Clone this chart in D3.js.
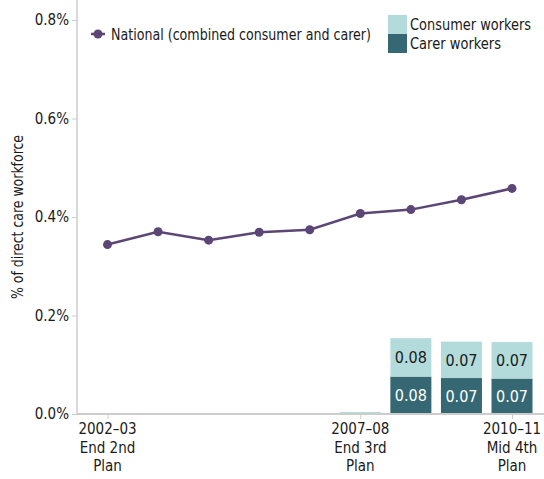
<!DOCTYPE html>
<html><head><meta charset="utf-8">
<script src="https://cdn.jsdelivr.net/npm/d3@7"></script>
<style>
body{margin:0;background:#fff;}
text{font-family:"DejaVu Sans Condensed","Liberation Sans",sans-serif;fill:#1a1a1a;}
</style></head>
<body><svg id="c" width="544" height="479"></svg>
<script>
const categories = ["2002-03","2003-04","2004-05","2005-06","2006-07","2007-08","2008-09","2009-10","2010-11"];
const tickLabels = {"2002-03":["2002–03","End 2nd","Plan"],"2007-08":["2007–08","End 3rd","Plan"],"2010-11":["2010–11","Mid 4th","Plan"]};
const nationalValues = [0.344,0.370,0.353,0.369,0.374,0.407,0.415,0.435,0.458];
const consumerValues = [null,null,null,null,null,0.004,0.078,0.074,0.074];
const carerValues = [null,null,null,null,null,0,0.076,0.073,0.072];
const yTicks = [0,0.2,0.4,0.6,0.8];

const svg = d3.select("#c");
const x = d3.scalePoint().domain(categories).range([107.5,512]);
const y = d3.scaleLinear().domain([0,0.8]).range([414,20]);
const bw = 41;
const cConsumer="#b3dbdb", cCarer="#356872", cLine="#5b4676", cAxis="#cccccc";

// axes
const ya = svg.append("g").attr("transform","translate(77,0)")
  .call(d3.axisLeft(y).tickValues(yTicks).tickFormat(d=>d.toFixed(1)+"%").tickSize(5).tickPadding(3));
ya.select(".domain").attr("stroke",cAxis).attr("stroke-width",1.5).attr("d","M0,0V414");
ya.selectAll(".tick line").attr("stroke",cAxis);
ya.selectAll(".tick text").style("font-size","15px").attr("fill","#1a1a1a");

svg.append("text").attr("transform","translate(23,217) rotate(-90)").attr("text-anchor","middle")
  .style("font-size","15px").attr("textLength",164).attr("lengthAdjust","spacingAndGlyphs").text("% of direct care workforce");

// bars
const barData = categories.map((c,i)=>({c,carer:carerValues[i],consumer:consumerValues[i]})).filter(d=>d.consumer!=null);
const bg = svg.append("g");
barData.forEach(d=>{
  const x0 = x(d.c)-bw/2;
  if(d.carer>0){
    bg.append("rect").attr("x",x0).attr("width",bw).attr("y",y(d.carer)).attr("height",y(0)-y(d.carer)).attr("fill",cCarer);
    bg.append("text").attr("x",x(d.c)).attr("y",(y(d.carer)+y(0))/2+6).attr("text-anchor","middle")
      .style("font-size","16px").style("fill","#ffffff").text(d.carer.toFixed(2));
  }
  const top = d.carer+d.consumer;
  bg.append("rect").attr("x",x0).attr("width",bw).attr("y",y(top)).attr("height",y(d.carer)-y(top)).attr("fill",cConsumer);
  if(d.consumer>0.02){
    bg.append("text").attr("x",x(d.c)).attr("y",(y(top)+y(d.carer))/2+6).attr("text-anchor","middle")
      .style("font-size","16px").text(d.consumer.toFixed(2));
  }
});

// x axis
const xa = svg.append("g").attr("transform","translate(0,414)")
  .call(d3.axisBottom(x).tickValues(Object.keys(tickLabels)).tickSize(5).tickFormat(""));
xa.select(".domain").attr("stroke",cAxis).attr("stroke-width",2).attr("d","M77,0H544");
xa.selectAll(".tick line").attr("stroke",cAxis);
Object.keys(tickLabels).forEach(k=>{
  const t = svg.append("text").attr("text-anchor","middle").style("font-size","15px");
  tickLabels[k].forEach((s,i)=>t.append("tspan").attr("x",x(k)).attr("y",434+i*18.5).text(s));
});

// line
svg.append("path").datum(nationalValues).attr("fill","none").attr("stroke",cLine).attr("stroke-width",2.5)
  .attr("d",d3.line().x((d,i)=>x(categories[i])).y(d=>y(d)));
svg.append("g").selectAll("circle").data(nationalValues).join("circle")
  .attr("cx",(d,i)=>x(categories[i])).attr("cy",d=>y(d)).attr("r",4.5).attr("fill",cLine);

// legend
const lg = svg.append("g");
lg.append("line").attr("x1",91).attr("x2",105).attr("y1",34).attr("y2",34).attr("stroke",cLine).attr("stroke-width",2.5);
lg.append("circle").attr("cx",98).attr("cy",34).attr("r",4.5).attr("fill",cLine);
lg.append("text").attr("x",111).attr("y",39.5).style("font-size","15.5px")
  .attr("textLength",260).attr("lengthAdjust","spacingAndGlyphs").text("National (combined consumer and carer)");
lg.append("rect").attr("x",388).attr("y",15).attr("width",19).attr("height",19).attr("fill",cConsumer);
lg.append("rect").attr("x",388).attr("y",34).attr("width",19).attr("height",19).attr("fill",cCarer);
lg.append("text").attr("x",410).attr("y",30).style("font-size","15.5px")
  .attr("textLength",121).attr("lengthAdjust","spacingAndGlyphs").text("Consumer workers");
lg.append("text").attr("x",410).attr("y",49).style("font-size","15.5px")
  .attr("textLength",91).attr("lengthAdjust","spacingAndGlyphs").text("Carer workers");
</script></body></html>
